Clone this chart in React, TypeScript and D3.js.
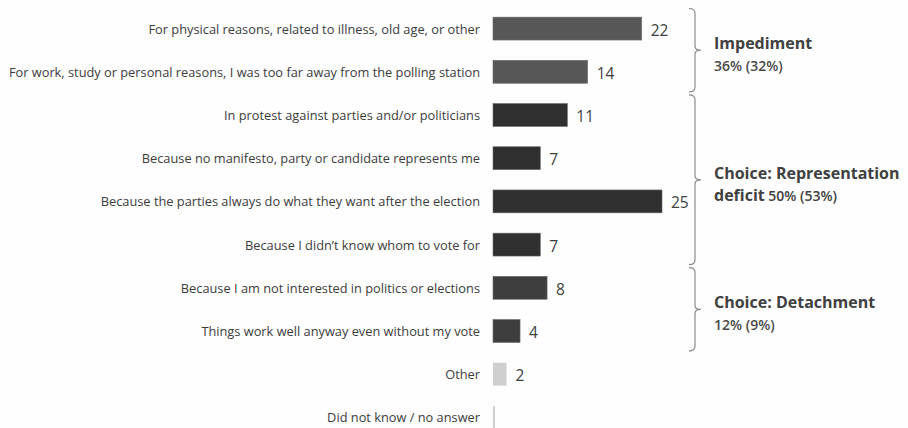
import React from "react";
import * as d3 from "d3";

const categories = [
  "For physical reasons, related to illness, old age, or other",
  "For work, study or personal reasons, I was too far away from the polling station",
  "In protest against parties and/or politicians",
  "Because no manifesto, party or candidate represents me",
  "Because the parties always do what they want after the election",
  "Because I didn\u2019t know whom to vote for",
  "Because I am not interested in politics or elections",
  "Things work well anyway even without my vote",
  "Other",
  "Did not know / no answer",
];
const values = [22, 14, 11, 7, 25, 7, 8, 4, 2, 0.3];
const valueLabels = ["22", "14", "11", "7", "25", "7", "8", "4", "2", ""];
const barGroups = ["imp", "imp", "rep", "rep", "rep", "rep", "det", "det", "oth", "oth"];

const groupNames = ["imp", "rep", "det"];
const groupFirst = [0, 2, 6];
const groupLast = [1, 5, 7];
const groupTitleLine1 = ["Impediment", "Choice: Representation", "Choice: Detachment"];
const groupTitleLine2 = ["", "deficit", ""];
const groupPct = ["36% (32%)", "50% (53%)", "12% (9%)"];

const colors: Record<string, string> = {
  imp: "#575757",
  rep: "#303030",
  det: "#3e3e3e",
  oth: "#cfcfcf",
};

const W = 908;
const H = 428;
const FONT = "'Open Sans', 'DejaVu Sans', sans-serif";

export default function App() {
  const y = d3
    .scaleBand<string>()
    .domain(categories)
    .range([7, 439])
    .paddingInner(0.47)
    .paddingOuter(0.235);
  const x = d3.scaleLinear().domain([0, 25]).range([493, 662]);
  const bw = y.bandwidth();
  const step = y.step();

  const braceX = 695;
  const brace = (top: number, bot: number) => {
    const mid = (top + bot) / 2;
    const p = d3.path();
    p.moveTo(braceX - 6, top);
    p.quadraticCurveTo(braceX, top, braceX, top + 5);
    p.lineTo(braceX, mid - 4);
    p.quadraticCurveTo(braceX, mid, braceX + 6, mid);
    p.quadraticCurveTo(braceX, mid, braceX, mid + 4);
    p.lineTo(braceX, bot - 5);
    p.quadraticCurveTo(braceX, bot, braceX - 6, bot);
    return p.toString();
  };

  return (
    <svg
      width={W}
      height={H}
      style={{ position: "absolute", left: 0, top: 0, background: "#fefefe" }}
      fontFamily={FONT}
    >
      {categories.map((c, i) => {
        const yy = y(c)!;
        const cy = yy + bw / 2;
        return (
          <g key={c}>
            <text
              x={480}
              y={cy}
              textAnchor="end"
              dominantBaseline="central"
              fontSize={12.8}
              fill="#3c3c3c"
            >
              {c}
            </text>
            <rect
              x={x(0)}
              y={yy}
              width={Math.max(1.5, x(values[i]) - x(0))}
              height={bw}
              fill={colors[barGroups[i]]}
              stroke={barGroups[i] === "oth" ? "none" : "#6a6a6a"}
              strokeWidth={0.6}
            />
            {valueLabels[i] && (
              <text
                x={x(values[i]) + 9}
                y={cy + 1}
                dominantBaseline="central"
                fontSize={15.5}
                fill="#404040"
              >
                {valueLabels[i]}
              </text>
            )}
          </g>
        );
      })}
      {groupNames.map((g, gi) => {
        const top = y(categories[groupFirst[gi]])! - step * 0.2;
        const bot = y(categories[groupLast[gi]])! + bw + step * 0.2;
        const mid = (top + bot) / 2;
        const tx = braceX + 19;
        return (
          <g key={g}>
            <path d={brace(top, bot)} fill="none" stroke="#8a8a8a" strokeWidth={1.2} />
            <text x={tx} y={mid - 1} fontSize={16} fontWeight={700} fill="#404040">
              {groupTitleLine1[gi]}
            </text>
            {groupTitleLine2[gi] ? (
              <text x={tx} y={mid + 21} fill="#404040">
                <tspan fontSize={16} fontWeight={700}>
                  {groupTitleLine2[gi]}
                </tspan>
                <tspan fontSize={14} fontWeight={600}>
                  {" " + groupPct[gi]}
                </tspan>
              </text>
            ) : (
              <text x={tx} y={mid + 21} fontSize={14} fontWeight={600} fill="#4a4a4a">
                {groupPct[gi]}
              </text>
            )}
          </g>
        );
      })}
    </svg>
  );
}
